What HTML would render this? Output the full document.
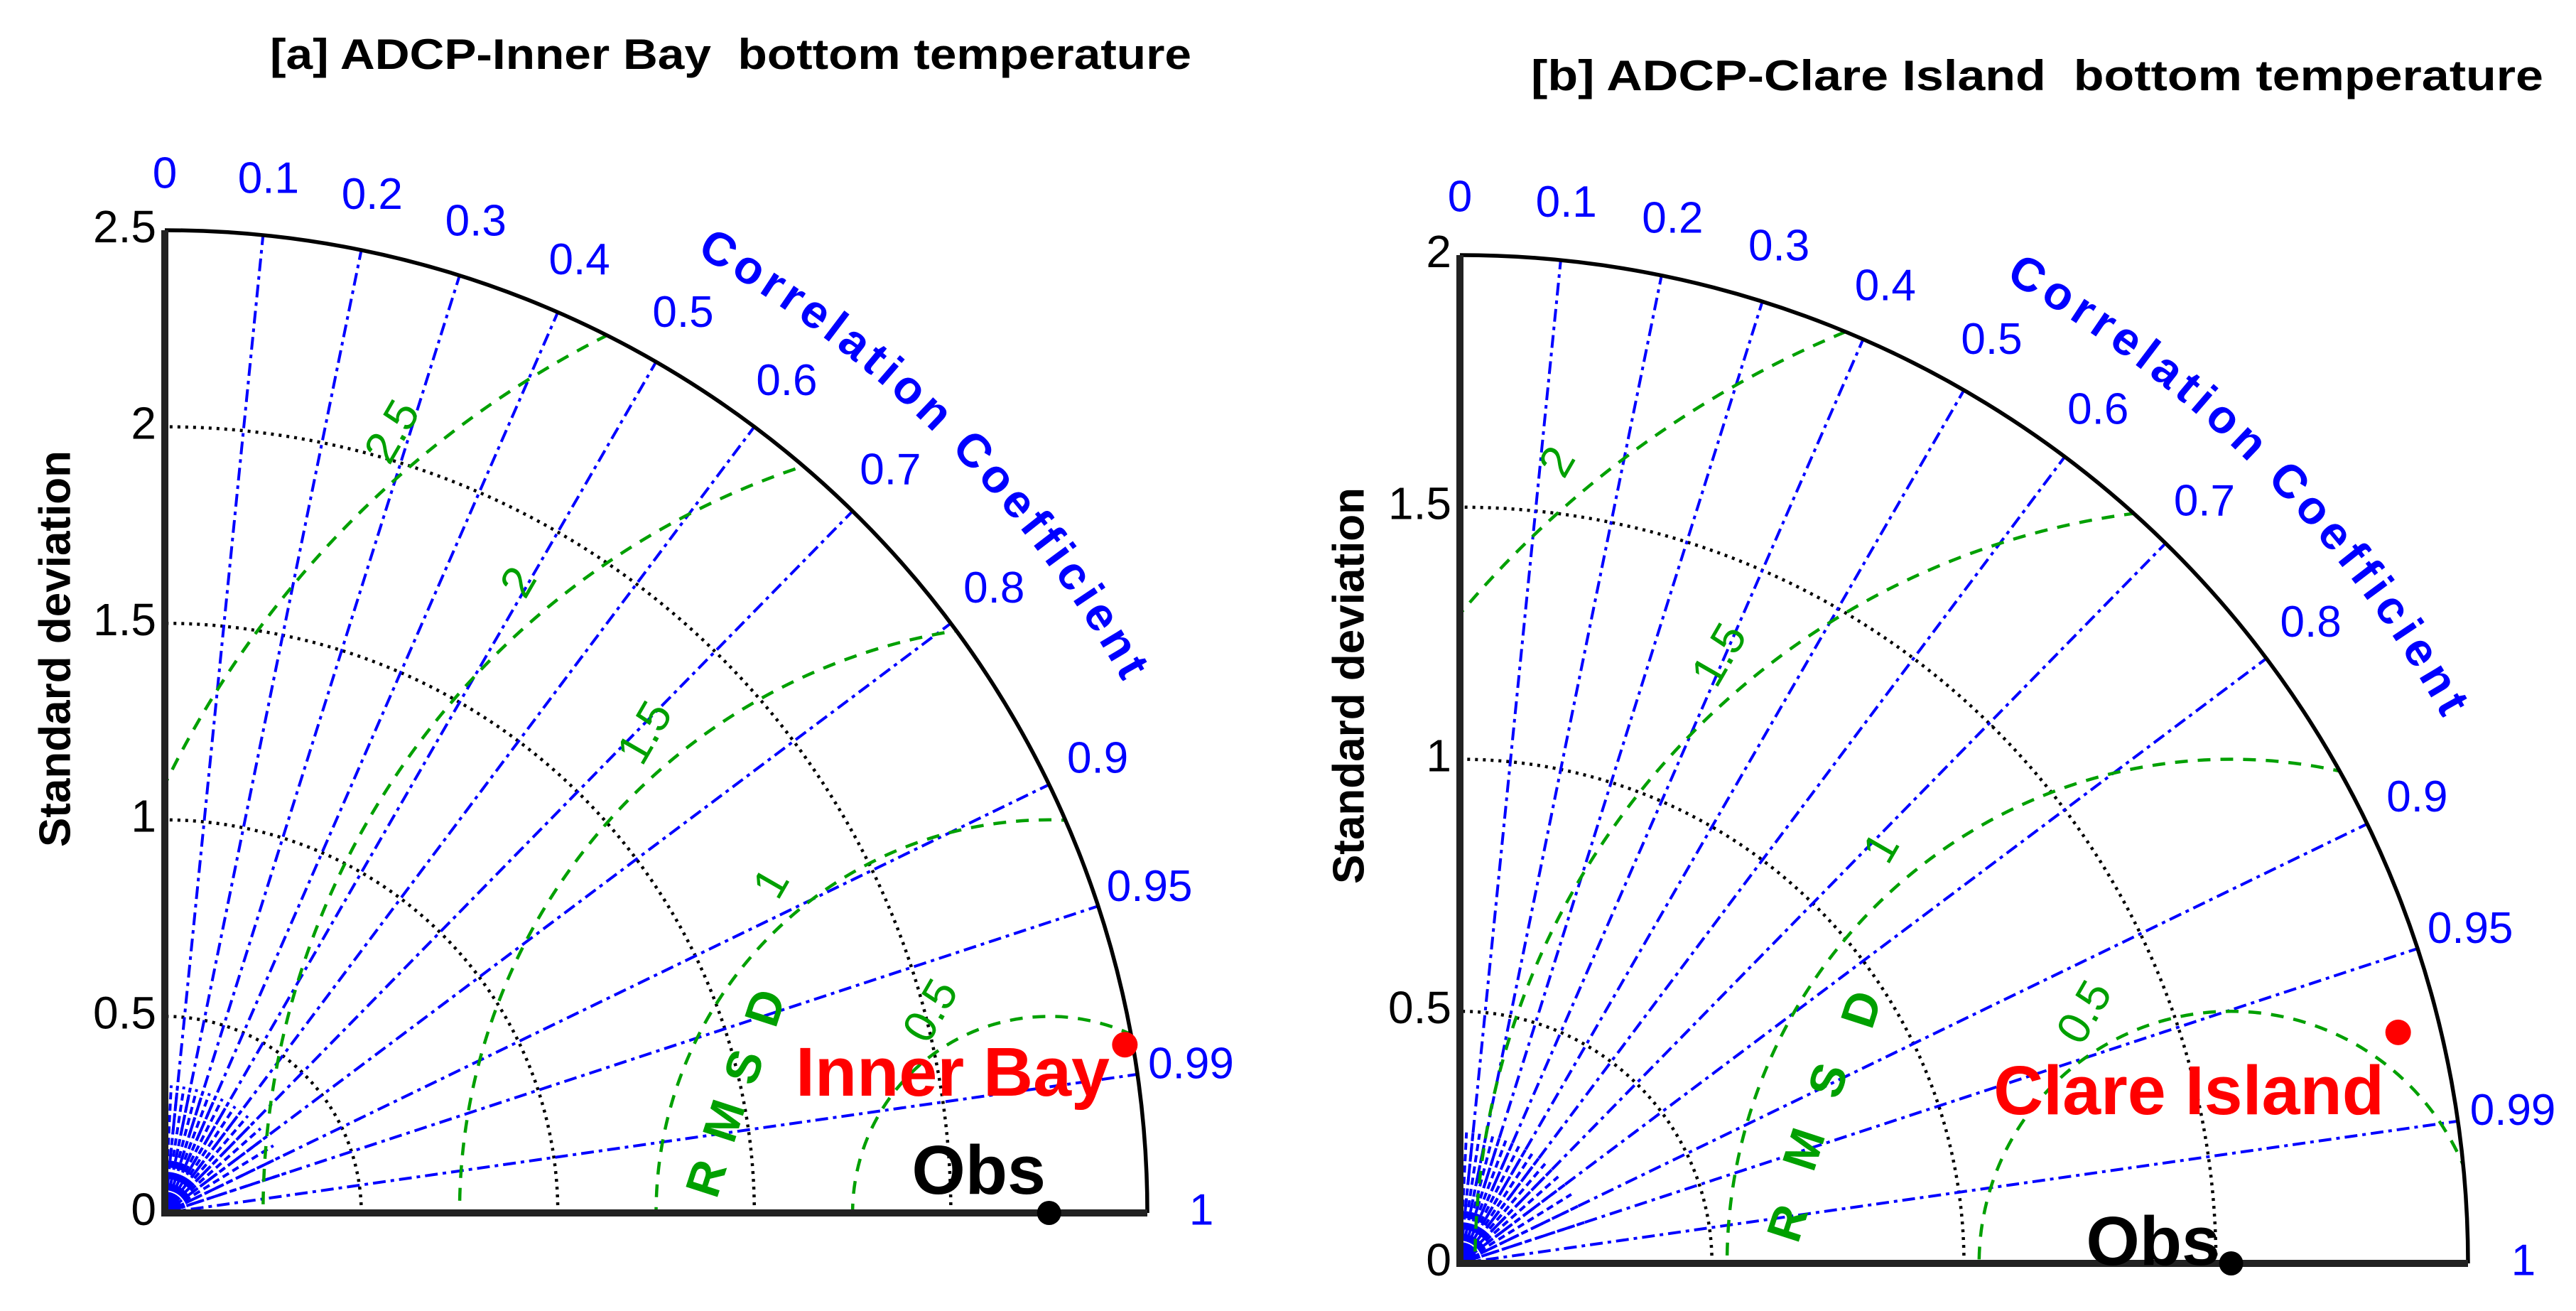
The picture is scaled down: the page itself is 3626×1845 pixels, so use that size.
<!DOCTYPE html>
<html><head><meta charset="utf-8"><style>
html,body{margin:0;padding:0;background:#fff;overflow:hidden;width:3626px;height:1845px}
svg{display:block;font-family:"Liberation Sans",Arial,sans-serif}
</style></head><body>
<svg id="fig" width="3626" height="1845" viewBox="0 0 3626 1845" xmlns="http://www.w3.org/2000/svg"></svg>
<script>
// ---- data ----
const panelTitles = ["[a] ADCP-Inner Bay\u00a0\u00a0bottom temperature", "[b] ADCP-Clare Island\u00a0\u00a0bottom temperature"];
const stdMax = [2.5, 2.0];
const stdTicksA = [0, 0.5, 1, 1.5, 2, 2.5];
const stdTicksB = [0, 0.5, 1, 1.5, 2];
const corrTicks = [0, 0.1, 0.2, 0.3, 0.4, 0.5, 0.6, 0.7, 0.8, 0.9, 0.95, 0.99, 1];
const corrTickLabels = ["0", "0.1", "0.2", "0.3", "0.4", "0.5", "0.6", "0.7", "0.8", "0.9", "0.95", "0.99", "1"];
const rmsdLevelsA = [0.5, 1, 1.5, 2, 2.5];
const rmsdLevelsB = [0.5, 1, 1.5, 2];
const obsStd = [2.25, 1.53];
const modelNames = ["Inner Bay", "Clare Island"];
const modelStd = [2.48, 1.917];
const modelCorr = [0.985, 0.971];

// ---- layout ----
const NS = "http://www.w3.org/2000/svg";
const svg = document.getElementById("fig");
function el(tag, attrs, parent, text) {
  const e = document.createElementNS(NS, tag);
  for (const k in attrs) e.setAttribute(k, attrs[k]);
  if (text !== undefined) e.textContent = text;
  (parent || svg).appendChild(e);
  return e;
}
const panels = [
  {ox: 232, oy: 1707, R: 1383, ticks: stdTicksA, rmsd: rmsdLevelsA, titleX: 380, titleY: 97, titleW: 1297,
   ylabX: 82, ylabY: 913, rmsdLetters: [[999,1660],[1024,1579],[1052,1503],[1082,1420]],
   modelEnd: 1562, modelBase: 1542, obsEnd: 1472, obsBase: 1680},
  {ox: 2055, oy: 1778, R: 1419, ticks: stdTicksB, rmsd: rmsdLevelsB, titleX: 2155, titleY: 127, titleW: 1425,
   ylabX: 1903, ylabY: 965, rmsdLetters: [[2521,1723],[2544,1619],[2578,1522],[2625,1422]],
   modelEnd: 3356, modelBase: 1568, obsEnd: 3125, obsBase: 1780}
];

panels.forEach((p, i) => {
  const g = el("g", {}, svg);
  
  
  const S = stdMax[i];
  const sx = (s, c) => p.ox + (s / S) * p.R * c;
  const sy = (s, c) => p.oy - (s / S) * p.R * Math.sqrt(Math.max(0, 1 - c * c));
  const px = (x) => p.ox + x / S * p.R;
  const py = (y) => p.oy - y / S * p.R;

  const cid = "clip" + i;
  const defs = el("defs", {}, g);
  const cp = el("clipPath", {id: cid}, defs);
  el("path", {d: `M${p.ox},${p.oy} L${p.ox + p.R},${p.oy} A${p.R},${p.R} 0 0 0 ${p.ox},${p.oy - p.R} Z`}, cp);

  const t = el("text", {x: p.titleX, y: p.titleY, "font-size": 60, "font-weight": "bold", fill: "#000",
    textLength: p.titleW, lengthAdjust: "spacingAndGlyphs"}, g, panelTitles[i]);
  
  

  p.ticks.forEach(s => {
    if (s <= 0 || s >= S) return;
    const r = s / S * p.R;
    const a = el("path", {d: `M${p.ox + r},${p.oy} A${r},${r} 0 0 0 ${p.ox},${p.oy - r}`, fill: "none",
      stroke: "#000", "stroke-width": 4.5, "stroke-dasharray": "4,7"}, g);
    
    
  });

  corrTicks.forEach(c => {
    if (c <= 0 || c >= 1) return;
    const l = el("line", {x1: p.ox, y1: p.oy, x2: sx(S, c), y2: sy(S, c), stroke: "#0000ff",
      "stroke-width": 4, "stroke-dasharray": "18,7,5,7"}, g);
    
    
  });
  for (let k = 1; k < 20; k++) {
    const c = k / 20;
    const l = el("line", {x1: p.ox, y1: p.oy, x2: sx(S * 0.13, c), y2: sy(S * 0.13, c), stroke: "#0000ff",
      "stroke-width": 4, "stroke-dasharray": "10,6"}, g);
    
    
  }

  const rg = el("g", {"clip-path": `url(#${cid})`}, g);
  const cx = px(obsStd[i]);
  p.rmsd.forEach(r => {
    const c = el("circle", {cx: cx, cy: p.oy, r: r / S * p.R, fill: "none", stroke: "#00a000",
      "stroke-width": 4.5, "stroke-dasharray": "18,14"}, rg);
    
    
  });
  p.rmsd.forEach(r => {
    const ang = (r === 0.5 ? 120 : 130) * Math.PI / 180;
    const rr = r + 0.09 * S / 2.5;
    const lx = cx + rr / S * p.R * Math.cos(ang), ly = p.oy - rr / S * p.R * Math.sin(ang);
    const tx = el("text", {x: lx, y: ly, "font-size": 64, fill: "#00a000", "text-anchor": "middle",
      "dominant-baseline": "middle", transform: `rotate(-60 ${lx} ${ly})`}, g, String(r));
    
    
  });
  ["R", "M", "S", "D"].forEach((ch, k) => {
    const [lx, ly] = p.rmsdLetters[k];
    const tx = el("text", {x: lx, y: ly, "font-size": 68, "font-weight": "bold", fill: "#00a000", "text-anchor": "middle",
      "dominant-baseline": "middle", transform: `rotate(-72 ${lx} ${ly})`}, g, ch);
    
    
  });

  const oa = el("path", {d: `M${p.ox + p.R},${p.oy} A${p.R},${p.R} 0 0 0 ${p.ox},${p.oy - p.R}`, fill: "none",
    stroke: "#000", "stroke-width": 5.5}, g);
  
  
  const ax = el("path", {d: `M${p.ox},${p.oy - p.R} L${p.ox},${p.oy} L${p.ox + p.R},${p.oy}`, fill: "none",
    stroke: "#222", "stroke-width": 10}, g);
  
  

  p.ticks.forEach(s => {
    const tx = el("text", {x: p.ox - 12, y: py(s), "font-size": 64, fill: "#000", "text-anchor": "end",
      "dominant-baseline": "middle"}, g, String(s));
    
    
  });
  const yl = el("text", {x: p.ylabX, y: p.ylabY, "font-size": 62, "font-weight": "bold", fill: "#000",
    "text-anchor": "middle", "dominant-baseline": "middle", transform: `rotate(-90 ${p.ylabX} ${p.ylabY})`}, g, "Standard deviation");
  
  

  corrTicks.forEach((c, k) => {
    const r = S * 1.055;
    const tx = el("text", {x: sx(r, c), y: sy(r, c), "font-size": 62, fill: "#0000ff", "text-anchor": "middle",
      "dominant-baseline": "middle"}, g, corrTickLabels[k]);
    
    
  });
  const rr = p.R * 1.115;
  const a1 = 61 * Math.PI / 180, a2 = 29 * Math.PI / 180;
  const pid = "cpath" + i;
  el("path", {id: pid, d: `M${p.ox + rr * Math.cos(a1)},${p.oy - rr * Math.sin(a1)} A${rr},${rr} 0 0 1 ${p.ox + rr * Math.cos(a2)},${p.oy - rr * Math.sin(a2)}`, fill: "none"}, defs);
  const ct = el("text", {"font-size": 66, "font-weight": "bold", fill: "#0000ff"}, g);
  
  
  el("textPath", {href: "#" + pid, textLength: rr * (a1 - a2), lengthAdjust: "spacing"}, ct, "Correlation Coefficient");

  const ob = el("circle", {cx: cx, cy: p.oy, r: 17, fill: "#000"}, g);
  
  
  const ol = el("text", {x: p.obsEnd, y: p.obsBase, "font-size": 97, "font-weight": "bold", fill: "#000", "text-anchor": "end"}, g, "Obs");
  
  

  const mp = el("circle", {cx: sx(modelStd[i], modelCorr[i]), cy: sy(modelStd[i], modelCorr[i]), r: 18, fill: "#ff0000"}, g);
  
  
  const ml = el("text", {x: p.modelEnd, y: p.modelBase, "font-size": 97, "font-weight": "bold", fill: "#ff0000", "text-anchor": "end"}, g, modelNames[i]);
  
  
});
</script>
</body></html>
